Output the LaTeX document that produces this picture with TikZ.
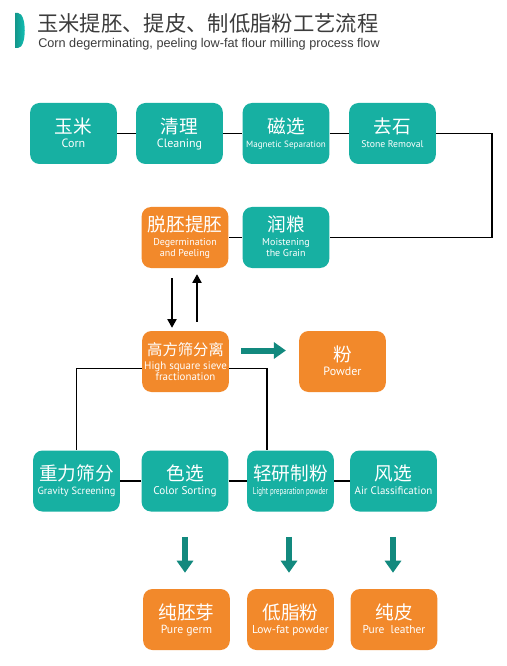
\documentclass[tikz,border=0pt]{standalone}
\usepackage{fontspec}
\usepackage{graphicx}
\setmainfont{Liberation Sans}
\newfontfamily\cjk{Noto Sans CJK SC}
\newfontfamily\boxfont{PT Sans}
\usepackage{xcolor}
\usepackage{tikz}
\usetikzlibrary{arrows.meta,positioning,calc}

\definecolor{tealfill}{HTML}{17B0A2}
\definecolor{orangefill}{HTML}{F2892B}
\definecolor{tealarrow}{HTML}{12897E}
\definecolor{titlegray}{HTML}{3C3C3C}

\newcommand{\zhtext}[2][14pt]{{\cjk\fontsize{#1}{#1}\selectfont\rule{0pt}{12pt}#2}}
\newcommand{\entext}[2][8.5pt]{{\boxfont\fontsize{#1}{#1}\selectfont\rule[-2pt]{0pt}{2pt}#2}}

\begin{document}
\begin{tikzpicture}[
    x=0.75pt, y=-0.75pt,
    stepbox/.style={rounded corners=7pt, minimum width=65pt, minimum height=45.75pt,
        inner sep=0pt, align=center, text=white, font=\fontsize{8pt}{10.4pt}\selectfont},
    tealbox/.style={stepbox, fill=tealfill},
    orangebox/.style={stepbox, fill=orangefill},
    line/.style={line width=1pt, black},
    arrow/.style={line width=1pt, -{Triangle[width=7pt, length=6.5pt]}},
    bigarrow/.style={line width=4.5pt, tealarrow, -{Triangle[width=12pt, length=9pt]}}
]
    \fill[white] (0,0) rectangle (506,666);
    \useasboundingbox (0,0) rectangle (506,666);

    % title
    \shade[left color=tealfill!85!black, right color=tealfill!70!cyan] (15,13) -- (18,13)
        .. controls (27,13) and (27,48) .. (18,48) -- (15,48) -- cycle;
    \node[anchor=west, inner sep=0pt, text=titlegray, font=\cjk\fontsize{16pt}{16pt}\selectfont] (title) at (37,23.5) {玉米提胚、提皮、制低脂粉工艺流程};
    \node[anchor=west, inner sep=0pt, text=titlegray, font=\fontsize{9.5pt}{9.5pt}\selectfont] (subtitle) at (38,44.5) {Corn degerminating, peeling low-fat flour milling process flow};

    % first row
    \node[tealbox] (corn) at (73.5,133.5) {\zhtext{玉米}\\\entext[9pt]{Corn}};
    \node[tealbox] (clean) at (179.5,133.5) {\zhtext{清理}\\\entext[9pt]{Cleaning}};
    \node[tealbox] (magnet) at (286,133.5) {\zhtext{磁选}\\\entext[6.8pt]{Magnetic Separation}};
    \node[tealbox] (stone) at (392.5,133.5) {\zhtext{去石}\\\entext[7.3pt]{Stone Removal}};

    % second row
    \node[orangebox] (degerm) at (185,237.5) {\zhtext{脱胚提胚}\\\entext[7.5pt]{Degermination}\\[-1.8pt]\entext[7.5pt]{and Peeling}};
    \node[tealbox] (moist) at (286,237.5) {\zhtext{润粮}\\\entext[7.5pt]{Moistening}\\[-1.8pt]\entext[7.5pt]{the Grain}};

    \node[orangebox] (sieve) at (185.5,361.5) {\zhtext[11.5pt]{高方筛分离}\\\entext[8.2pt]{High square sieve}\\[-2.4pt]\entext[8.2pt]{fractionation}};
    \node[orangebox] (powder) at (342.5,361.5) {\zhtext{粉}\\\entext[9pt]{Powder}};

    % third row
    \node[tealbox] (gravity) at (76.5,481) {\zhtext{重力筛分}\\\entext[7.8pt]{Gravity Screening}};
    \node[tealbox] (color) at (185,481) {\zhtext{色选}\\\entext[8.4pt]{Color Sorting}};
    \node[tealbox] (light) at (290.5,481) {\zhtext{轻研制粉}\\\entext[7.4pt]{\scalebox{0.7}[1]{Light preparation powder}}};
    \node[tealbox] (air) at (393.5,481) {\zhtext{风选}\\\entext[8.2pt]{Air Classification}};

    % products
    \node[orangebox] (germ) at (186.5,619.5) {\zhtext{纯胚芽}\\\entext[8.8pt]{Pure germ}};
    \node[orangebox] (lowfat) at (290.5,619.5) {\zhtext{低脂粉}\\\entext[8.6pt]{Low-fat powder}};
    \node[orangebox] (leather) at (394,619.5) {\zhtext{纯皮}\\\entext[8.6pt]{Pure\ \ leather}};

    \coordinate (turn) at (492,133.5);

    \draw[line] (corn) -- (clean);
    \draw[line] (clean) -- (magnet);
    \draw[line] (magnet) -- (stone);
    \draw[line] (stone) -- (turn) |- (moist);
    \draw[line] (moist) -- (degerm);

    \draw[arrow] ($(degerm.south)+(-13,10)$) -- ($(sieve.north)+(-13.5,-3)$);
    \draw[arrow] ($(sieve.north)+(11.5,-9)$) -- ($(degerm.south)+(12,6)$);
    \draw[bigarrow] ($(sieve.east)+(12,-11)$) -- ($(powder.west)+(-13,-11)$);

    \draw[line] ($(sieve.west)+(0,7)$) -| (gravity.north);
    \draw[line] ($(sieve.east)+(0,7)$) -| ($(light.north)+(-23.5,0)$);

    \draw[line] (gravity) -- (color);
    \draw[line] (color) -- (light);
    \draw[line] (light) -- (air);

    \draw[bigarrow] ($(color.south)+(0,25)$) -- ($(germ.north)+(-1.5,-16)$);
    \draw[bigarrow] ($(light.south)+(-1.5,25)$) -- ($(lowfat.north)+(-1.5,-16)$);
    \draw[bigarrow] ($(air.south)+(-0.5,25)$) -- ($(leather.north)+(-1,-16)$);
\end{tikzpicture}
\end{document}
